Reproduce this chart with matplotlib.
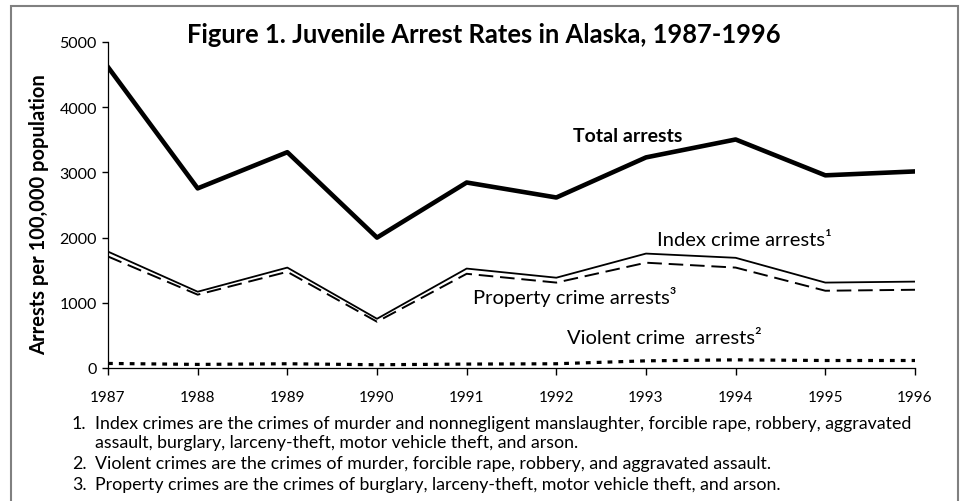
import matplotlib.pyplot as plt
from matplotlib.patches import Rectangle

years = [1987, 1988, 1989, 1990, 1991, 1992, 1993, 1994, 1995, 1996]
total = [4615, 2755, 3310, 2000, 2845, 2615, 3230, 3505, 2955, 3015]
index_crime = [1785, 1170, 1540, 755, 1525, 1385, 1755, 1690, 1310, 1325]
property_crime = [1710, 1125, 1475, 710, 1445, 1310, 1615, 1540, 1185, 1200]
violent_crime = [70, 55, 65, 50, 60, 65, 110, 125, 115, 115]

W, H = 961, 502
plt.rcParams['font.family'] = ['Lato', 'DejaVu Sans']

fig = plt.figure(figsize=(W / 100, H / 100), dpi=100)
ax = fig.add_axes([108 / W, 1 - 369 / H, (915 - 108) / W, (369 - 43) / H])

ax.plot(years, total, color='black', lw=3.3)
ax.plot(years, index_crime, color='black', lw=1.3)
ax.plot(years, property_crime, color='black', lw=1.4, dashes=(7.5, 3.5))
ax.plot(years, violent_crime, color='black', lw=2.3, dashes=(1.5, 1.9), dash_capstyle='butt')

ax.set_xlim(1987, 1996)
ax.set_ylim(0, 5000)
ax.set_xticks(years)
ax.set_xticklabels([str(y) for y in years], fontsize=11)
ax.set_yticks(range(0, 5001, 1000))
ax.tick_params(axis='x', direction='out', length=5, width=1, pad=11)
ax.tick_params(axis='y', direction='out', length=4, width=1, labelsize=11.5, pad=4)
for s in ['top', 'right']:
    ax.spines[s].set_visible(False)
for s in ['left', 'bottom']:
    ax.spines[s].set_linewidth(0.9)

fig.text(39 / W, 1 - 215 / H, 'Arrests per 100,000 population', rotation=90,
         ha='center', va='center', fontsize=14.5, fontweight='bold')

fig.text(484 / W, 1 - 35 / H, 'Figure 1. Juvenile Arrest Rates in Alaska, 1987-1996',
         ha='center', va='center', fontsize=18.4, fontweight='bold')

ax.text(1992.8, 3560, 'Total arrests', fontsize=14, fontweight='bold', ha='center', va='center')
ax.text(1994.1, 1975, 'Index crime arrests\u00b9', fontsize=14.5, ha='center', va='center')
ax.text(1992.2, 1105, 'Property crime arrests\u00b3', fontsize=14.5, ha='center', va='center')
ax.text(1993.2, 465, 'Violent crime  arrests\u00b2', fontsize=14.5, ha='center', va='center')

note_nums = ['1.', '', '2.', '3.']
note_texts = [
    'Index crimes are the crimes of murder and nonnegligent manslaughter, forcible rape, robbery, aggravated',
    'assault, burglary, larceny-theft, motor vehicle theft, and arson.',
    'Violent crimes are the crimes of murder, forcible rape, robbery, and aggravated assault.',
    'Property crimes are the crimes of burglary, larceny-theft, motor vehicle theft, and arson.',
]
note_y = [424, 443, 464, 485]
for n, t, y in zip(note_nums, note_texts, note_y):
    fig.text(72 / W, 1 - y / H, n, ha='left', va='center', fontsize=12.8)
    fig.text(95 / W, 1 - y / H, t, ha='left', va='center', fontsize=12.8)

fig.patches.append(Rectangle((11 / W, -0.05), 947 / W, 1.05 - 7 / H,
                             transform=fig.transFigure, fill=False,
                             edgecolor='#808080', lw=1.5))

fig.savefig('out.png', dpi=100)
